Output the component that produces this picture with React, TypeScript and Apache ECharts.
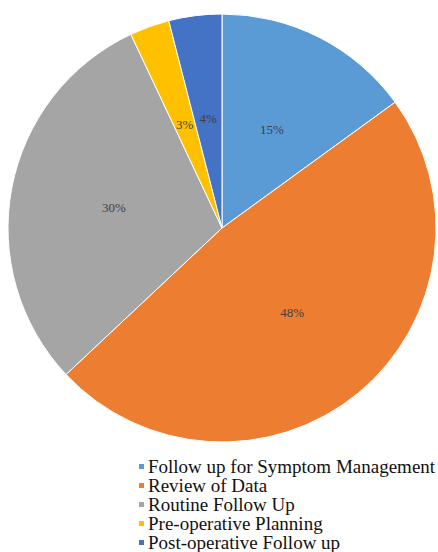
import React, { useEffect, useRef } from "react";
import * as echarts from "echarts";

const categories = [
  "Follow up for Symptom Management",
  "Review of Data",
  "Routine Follow Up",
  "Pre-operative Planning",
  "Post-operative Follow up",
];
const values = [15, 48, 30, 3, 4];
const colors = ["#5B9BD5", "#ED7D31", "#A5A5A5", "#FFC000", "#4472C4"];

export default function App() {
  const ref = useRef<HTMLDivElement>(null);
  useEffect(() => {
    document.body.style.margin = "0";
    const chart = echarts.init(ref.current!, null, { renderer: "svg" });
    chart.setOption({
      animation: false,
      color: colors,
      legend: {
        orient: "vertical",
        left: 137,
        top: 457,
        width: 300,
        height: 120,
        padding: 0,
        itemWidth: 7,
        itemHeight: 7,
        itemGap: 0,
        icon: "rect",
        data: categories,
        textStyle: {
          fontFamily: "'Liberation Serif', 'DejaVu Serif', serif",
          fontSize: 19,
          lineHeight: 18.5,
          color: "#111",
          padding: [0, 0, 0, -2],
        },
      },
      series: [
        {
          type: "pie",
          center: [222, 228],
          radius: [0, 214],
          startAngle: 90,
          clockwise: true,
          data: categories.map((c, i) => ({ name: c, value: values[i] })),
          itemStyle: { borderColor: "#fff", borderWidth: 1 },
          label: {
            show: true,
            position: "inner",
            formatter: "{c}%",
            fontFamily: "'Liberation Serif', 'DejaVu Serif', serif",
            fontSize: 13,
            color: "#404040",
          },
          labelLine: { show: false },
          emphasis: { disabled: true },
        },
      ],
    });
    return () => chart.dispose();
  }, []);
  return <div ref={ref} style={{ position: "absolute", left: 0, top: 0, width: 438, height: 552 }} />;
}
